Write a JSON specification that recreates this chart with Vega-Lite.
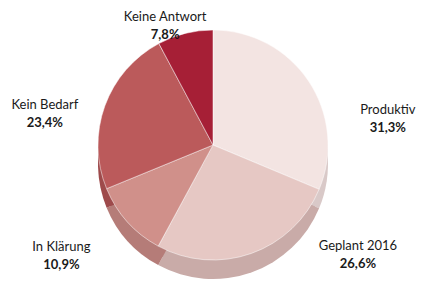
{
  "$schema": "https://vega.github.io/schema/vega-lite/v6.json",
  "width": 426,
  "height": 290,
  "autosize": {"type": "none"},
  "padding": {"left": 0, "top": 0, "right": 14, "bottom": 4},
  "background": "white",
  "config": {"view": {"stroke": null}, "text": {"font": "Lato", "fontSize": 13, "color": "#1a1a1a"}},
  "data": {"values": [
    {"name": "Produktiv", "value": 31.3, "label": "31,3%", "o": 1},
    {"name": "Geplant 2016", "value": 26.6, "label": "26,6%", "o": 2},
    {"name": "In Klärung", "value": 10.9, "label": "10,9%", "o": 3},
    {"name": "Kein Bedarf", "value": 23.4, "label": "23,4%", "o": 4},
    {"name": "Keine Antwort", "value": 7.8, "label": "7,8%", "o": 5}
  ]},
  "encoding": {
    "theta": {"field": "value", "type": "quantitative", "stack": true},
    "order": {"field": "o", "type": "quantitative"}
  },
  "layer": [
    {
      "layer": [
        {"mark": {"type": "arc", "radius": 115, "yOffset": 9}},
        {"mark": {"type": "arc", "radius": 115, "yOffset": 19}}
      ],
      "encoding": {
        "color": {"field": "name", "type": "nominal", "legend": null,
          "scale": {"domain": ["Produktiv", "Geplant 2016", "In Klärung", "Kein Bedarf", "Keine Antwort"],
                    "range": ["#d9c9c8", "#c9aba8", "#b57c78", "#9e4a4b", "#8a1a2c"]}}
      }
    },
    {
      "mark": {"type": "arc", "radius": 115, "stroke": "white", "strokeWidth": 0.5},
      "encoding": {
        "color": {"field": "name", "type": "nominal", "legend": null,
          "scale": {"domain": ["Produktiv", "Geplant 2016", "In Klärung", "Kein Bedarf", "Keine Antwort"],
                    "range": ["#f3e4e2", "#e6c8c4", "#d0908a", "#bb5a5b", "#a61f36"]}}
      }
    },
    {"mark": {"type": "text", "radius": 123, "dx": -18, "dy": -9}, "encoding": {"text": {"condition": {"test": "datum.name === 'Keine Antwort'", "field": "name"}, "value": ""}}},
    {"mark": {"type": "text", "radius": 123, "dx": -18, "dy": 9, "fontWeight": "bold"}, "encoding": {"text": {"condition": {"test": "datum.name === 'Keine Antwort'", "field": "label"}, "value": ""}}},
    {"mark": {"type": "text", "radius": 150, "dx": -27, "dy": 11}, "encoding": {"text": {"condition": {"test": "datum.name === 'Kein Bedarf'", "field": "name"}, "value": ""}}},
    {"mark": {"type": "text", "radius": 150, "dx": -27, "dy": 29, "fontWeight": "bold"}, "encoding": {"text": {"condition": {"test": "datum.name === 'Kein Bedarf'", "field": "label"}, "value": ""}}},
    {"mark": {"type": "text", "radius": 150, "dx": 50, "dy": 48}, "encoding": {"text": {"condition": {"test": "datum.name === 'Produktiv'", "field": "name"}, "value": ""}}},
    {"mark": {"type": "text", "radius": 150, "dx": 50, "dy": 66, "fontWeight": "bold"}, "encoding": {"text": {"condition": {"test": "datum.name === 'Produktiv'", "field": "label"}, "value": ""}}},
    {"mark": {"type": "text", "radius": 150, "dx": -40, "dy": 2}, "encoding": {"text": {"condition": {"test": "datum.name === 'In Klärung'", "field": "name"}, "value": ""}}},
    {"mark": {"type": "text", "radius": 150, "dx": -40, "dy": 20, "fontWeight": "bold"}, "encoding": {"text": {"condition": {"test": "datum.name === 'In Klärung'", "field": "label"}, "value": ""}}},
    {"mark": {"type": "text", "radius": 150, "dx": 95, "dy": -40}, "encoding": {"text": {"condition": {"test": "datum.name === 'Geplant 2016'", "field": "name"}, "value": ""}}},
    {"mark": {"type": "text", "radius": 150, "dx": 95, "dy": -22, "fontWeight": "bold"}, "encoding": {"text": {"condition": {"test": "datum.name === 'Geplant 2016'", "field": "label"}, "value": ""}}}
  ],
  "resolve": {"scale": {"color": "independent"}}
}
